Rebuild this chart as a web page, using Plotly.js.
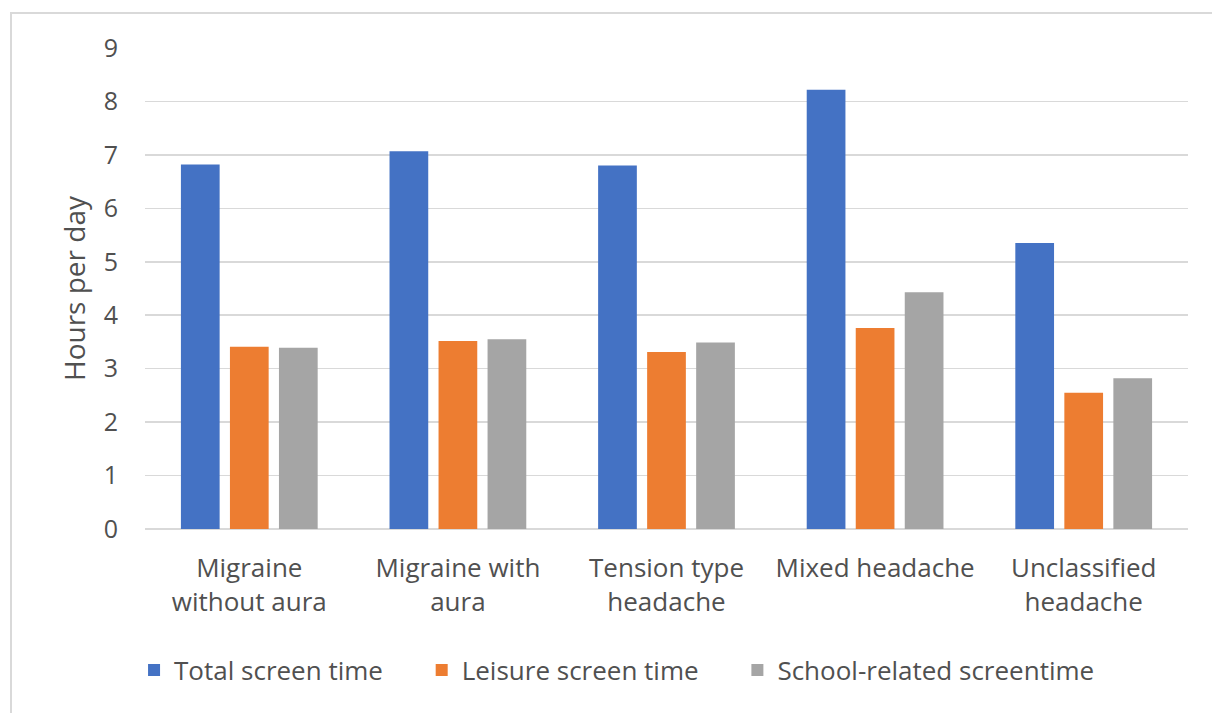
<!DOCTYPE html>
<html>
<head>
<meta charset="utf-8">
<script src="https://cdn.plot.ly/plotly-3.0.1.min.js"></script>
<style>
  html, body { margin: 0; padding: 0; background: #ffffff; }
  #wrap { position: relative; width: 1212px; height: 713px; overflow: hidden; }
  #chart { position: absolute; left: 0; top: 0; width: 1212px; height: 713px; }
  #frame { position: absolute; left: 10px; top: 12px; width: 1240px; height: 760px;
           border-left: 2px solid #d9d9d9; border-top: 2px solid #d9d9d9; pointer-events: none; }
</style>
</head>
<body>
<div id="wrap">
  <div id="chart"></div>
  <div id="frame"></div>
</div>
<script>
const categories = [
  "Migraine<br>without aura",
  "Migraine with<br>aura",
  "Tension type<br>headache",
  "Mixed headache",
  "Unclassified<br>headache"
];
const seriesNames = ["Total screen time", "Leisure screen time", "School-related screentime"];
const totalScreen = [6.82, 7.07, 6.80, 8.22, 5.35];
const leisureScreen = [3.41, 3.52, 3.31, 3.76, 2.55];
const schoolScreen = [3.39, 3.55, 3.49, 4.43, 2.82];
const yTickVals = [0, 1, 2, 3, 4, 5, 6, 7, 8, 9];
const colors = ["#4472C4", "#ED7D31", "#A5A5A5"];

const FONT = "'Open Sans', 'Liberation Sans', sans-serif";
const TEXT = "#505050";
const values = [totalScreen, leisureScreen, schoolScreen];
const PAD = "\u00A0\u00A0\u00A0\u00A0\u00A0";

const traces = values.map((v, i) => ({
  type: "bar",
  name: seriesNames[i] + PAD,
  x: categories,
  y: v,
  marker: { color: colors[i] },
  hoverinfo: "skip"
}));

const layout = {
  width: 1212,
  height: 713,
  paper_bgcolor: "#ffffff",
  plot_bgcolor: "#ffffff",
  margin: { l: 145, r: 24, t: 48, b: 184 },
  barmode: "group",
  bargap: 0.295,
  bargroupgap: 0.21,
  font: { family: FONT, size: 25, color: TEXT },
  xaxis: {
    type: "category",
    showgrid: false,
    showline: false,
    zeroline: false,
    ticks: "",
    ticklabelstandoff: 21,
    tickfont: { family: FONT, size: 26, color: TEXT },
    automargin: false
  },
  yaxis: {
    range: [0, 9],
    tickvals: yTickVals,
    ticktext: yTickVals.map(String),
    showgrid: true,
    gridcolor: "#d9d9d9",
    gridwidth: 1.5,
    zeroline: true,
    zerolinecolor: "#d9d9d9",
    zerolinewidth: 1.5,
    showline: false,
    ticks: "",
    ticklabelstandoff: 26,
    tickfont: { family: FONT, size: 25, color: TEXT },
    automargin: false,
    title: { text: "Hours per day", font: { family: FONT, size: 28, color: TEXT }, standoff: 9 }
  },
  showlegend: true,
  legend: {
    orientation: "h",
    xref: "container",
    yref: "container",
    x: 0.1106,
    xanchor: "left",
    y: 0.06,
    yanchor: "middle",
    font: { family: FONT, size: 26, color: TEXT },
    bgcolor: "rgba(0,0,0,0)",
    traceorder: "normal"
  }
};

Plotly.newPlot("chart", traces, layout, { staticPlot: true, displayModeBar: false });
</script>
</body>
</html>
